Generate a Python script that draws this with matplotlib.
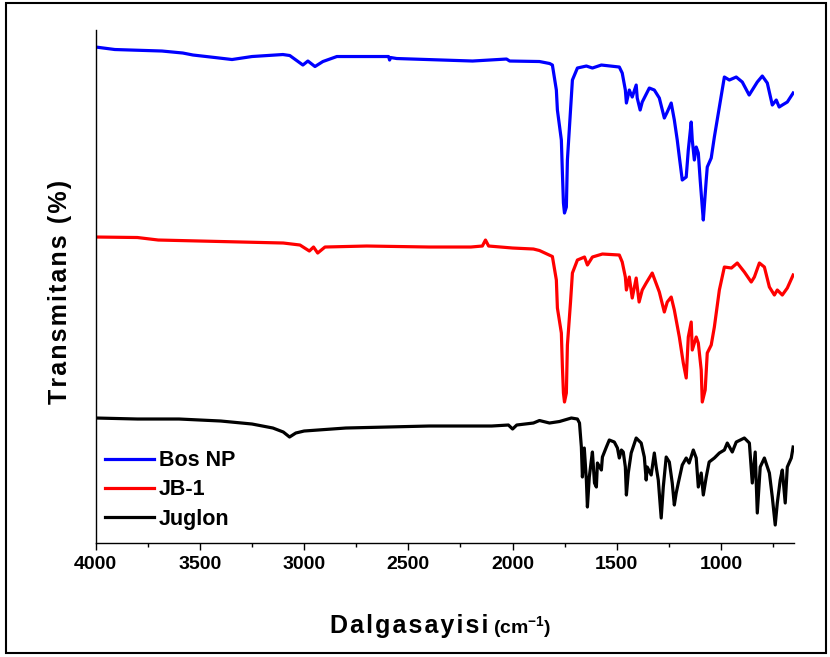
import matplotlib
matplotlib.use("Agg")
import matplotlib.pyplot as plt
from matplotlib.patches import Rectangle
from matplotlib.ticker import MultipleLocator

plt.rcParams["font.family"] = ["Liberation Sans", "DejaVu Sans"]
plt.rcParams["font.weight"] = "bold"
plt.rcParams["mathtext.fontset"] = "custom"
plt.rcParams["mathtext.rm"] = "Liberation Sans:bold"
plt.rcParams["mathtext.bf"] = "Liberation Sans:bold"
plt.rcParams["mathtext.it"] = "Liberation Sans:bold"

# FTIR spectra, stacked (arbitrary transmittance units)
wn_bos = [4000, 3908, 3682, 3582, 3533, 3428, 3346, 3250, 3102, 3069, 3006, 2982, 2948, 2910,
          2843, 2595, 2590, 2585, 2556, 2192, 2029, 2014, 1871, 1822, 1809, 1790, 1785, 1766,
          1761, 1756, 1751, 1742, 1737, 1722, 1713, 1689, 1646, 1617, 1574, 1488, 1474, 1459,
          1454, 1440, 1426, 1407, 1402, 1388, 1378, 1344, 1320, 1296, 1272, 1258, 1239, 1224,
          1210, 1200, 1186, 1167, 1157, 1143, 1138, 1128, 1119, 1109, 1100, 1090, 1085, 1071,
          1066, 1047, 1032, 1008, 984, 960, 927, 898, 865, 850, 826, 802, 778, 754, 735, 721,
          706, 682, 654]
t_bos = [99.2, 98.7, 98.4, 98.0, 97.6, 97.1, 96.7, 97.3, 97.7, 97.5, 95.6, 96.4, 95.3, 96.3,
         97.3, 97.3, 96.6, 97.1, 96.9, 96.4, 96.8, 96.4, 96.3, 95.9, 95.6, 90.6, 86.6, 80.6,
         74.0, 68.0, 66.0, 67.2, 76.6, 86.6, 92.6, 95.0, 95.4, 95.0, 95.6, 95.2, 94.0, 90.6,
         88.0, 90.6, 89.2, 91.6, 89.0, 86.6, 88.2, 91.0, 90.6, 89.0, 85.0, 86.2, 88.0, 84.6,
         80.6, 77.2, 72.6, 73.2, 78.6, 84.2, 80.6, 76.6, 79.2, 78.0, 72.6, 67.2, 64.6, 72.6,
         75.2, 77.0, 81.2, 87.2, 93.2, 92.6, 93.2, 92.2, 89.6, 90.6, 92.2, 93.4, 92.0, 87.6,
         88.6, 87.2, 87.6, 88.2, 90.0]

wn_jb = [4000, 3800, 3700, 3500, 3300, 3100, 3020, 2975, 2955, 2935, 2900, 2700, 2400, 2200,
         2145, 2130, 2115, 2000, 1900, 1871, 1809, 1790, 1785, 1766, 1761, 1756, 1751, 1742,
         1737, 1722, 1713, 1689, 1655, 1641, 1617, 1569, 1488, 1474, 1459, 1454, 1440, 1426,
         1407, 1393, 1378, 1359, 1330, 1296, 1272, 1258, 1239, 1224, 1200, 1181, 1167, 1157,
         1143, 1138, 1119, 1109, 1095, 1090, 1076, 1066, 1047, 1032, 1008, 984, 950, 922,
         888, 855, 840, 816, 792, 768, 744, 730, 706, 682, 654]
t_jb = [61.2, 61.1, 60.6, 60.4, 60.2, 60.0, 59.6, 58.4, 59.2, 58.0, 59.2, 59.4, 59.2, 59.2,
        59.4, 60.6, 59.4, 59.0, 58.8, 58.5, 57.3, 52.6, 47.0, 42.0, 35.2, 30.0, 28.2, 30.0,
        39.6, 48.2, 54.0, 56.6, 57.2, 55.6, 57.2, 57.8, 57.6, 56.2, 53.2, 50.6, 53.2, 49.0,
        53.0, 48.2, 50.6, 52.0, 54.0, 50.2, 46.2, 48.2, 49.2, 46.6, 41.2, 36.0, 33.0, 41.2,
        44.2, 38.6, 41.2, 40.0, 34.6, 28.2, 30.6, 38.0, 39.6, 43.2, 50.6, 55.2, 55.0, 56.0,
        54.2, 52.2, 53.2, 56.0, 55.2, 51.2, 49.6, 50.6, 49.6, 51.0, 53.6]

wn_jug = [4000, 3800, 3600, 3400, 3250, 3150, 3100, 3070, 3040, 3000, 2800, 2600, 2400, 2100,
          2020, 2000, 1980, 1900, 1871, 1823, 1775, 1718, 1689, 1679, 1670, 1665, 1656, 1646,
          1641, 1632, 1622, 1617, 1607, 1598, 1593, 1574, 1569, 1550, 1536, 1512, 1497, 1488,
          1478, 1469, 1459, 1454, 1445, 1431, 1407, 1383, 1368, 1359, 1354, 1335, 1320, 1311,
          1301, 1287, 1277, 1263, 1248, 1234, 1224, 1215, 1205, 1186, 1167, 1153, 1133, 1119,
          1109, 1095, 1085, 1071, 1057, 1032, 1008, 984, 970, 946, 927, 888, 864, 850, 836,
          826, 812, 792, 768, 754, 740, 730, 716, 706, 692, 682, 663, 654]
t_jug = [25.0, 24.8, 24.8, 24.4, 23.8, 23.0, 22.2, 21.2, 22.0, 22.4, 23.0, 23.2, 23.4, 23.4,
         23.6, 22.8, 23.6, 24.0, 24.5, 24.0, 24.3, 25.0, 24.8, 24.0, 19.2, 13.2, 19.0, 12.6,
         7.2, 13.2, 16.6, 18.2, 12.0, 11.2, 16.0, 14.6, 17.2, 19.2, 20.6, 20.2, 19.0, 17.0,
         18.6, 18.2, 15.2, 9.6, 14.0, 18.0, 21.0, 20.0, 17.2, 12.6, 15.2, 13.6, 18.0, 15.2,
         12.6, 5.0, 11.2, 17.2, 16.2, 12.0, 7.6, 10.0, 12.0, 15.6, 17.0, 16.0, 18.6, 17.0,
         11.2, 14.0, 9.6, 13.2, 16.2, 17.0, 18.0, 18.6, 20.0, 18.2, 20.2, 21.0, 20.0, 12.0,
         18.2, 6.0, 15.2, 17.0, 14.0, 9.2, 3.6, 8.0, 12.6, 14.6, 8.0, 15.2, 17.0, 19.2]

HAIR = "\u200a"


def spaced(s):
    # loose letter spacing, like the original plotting software
    return HAIR.join(s)


fig = plt.figure(figsize=(8.3, 6.57), dpi=100)
ax = fig.add_axes([0.1153, 0.1735, 0.8413, 0.7808])

ax.plot(wn_bos, t_bos, color="#0000ff", lw=2.3, label="Bos NP")
ax.plot(wn_jb, t_jb, color="#ff0000", lw=2.3, label="JB-1")
ax.plot(wn_jug, t_jug, color="black", lw=2.3, label="Juglon")

ax.set_xlim(4000, 650)
ax.set_ylim(0, 102.6)
ax.xaxis.set_major_locator(MultipleLocator(500))
ax.xaxis.set_minor_locator(MultipleLocator(250))
ax.set_yticks([])
ax.tick_params(axis="x", which="major", direction="out", length=5, width=1, labelsize=14, pad=4)
ax.tick_params(axis="x", which="minor", direction="out", length=3, width=1)
for lbl in ax.get_xticklabels():
    lbl.set_fontweight("bold")

ax.spines["top"].set_visible(False)
ax.spines["right"].set_visible(False)
ax.spines["left"].set_linewidth(1.0)
ax.spines["bottom"].set_linewidth(1.0)

ax.set_ylabel(spaced("Transmitans (%)"), fontsize=18, fontweight="bold")
ax.yaxis.set_label_coords(-0.034, 0.49)

# x label: main word plus a smaller unit right after it
renderer = fig.canvas.get_renderer()
t1 = fig.text(0, 0.036, spaced("Dalgasayisi"), fontsize=18, fontweight="bold",
              ha="left", va="baseline")
t2 = fig.text(0, 0.036, r"(cm$^{\mathbf{-1}}$)", fontsize=14, fontweight="bold",
              ha="left", va="baseline")
w1 = t1.get_window_extent(renderer).width
w2 = t2.get_window_extent(renderer).width
gap = 5
x0 = 441 - (w1 + gap + w2) / 2
t1.set_x(x0 / 830)
t2.set_x((x0 + w1 + gap) / 830)

ax.legend(loc="lower left", bbox_to_anchor=(0.013, 0.026), frameon=False,
          handlelength=2.3, handletextpad=0.2, labelspacing=0.38, borderpad=0,
          borderaxespad=0, prop={"weight": "bold", "size": 15.5})

fig.add_artist(Rectangle((0.007, 0.006), 0.988, 0.99, transform=fig.transFigure,
                         fill=False, lw=1.5, ec="black"))

fig.savefig("out.png", dpi=100)
